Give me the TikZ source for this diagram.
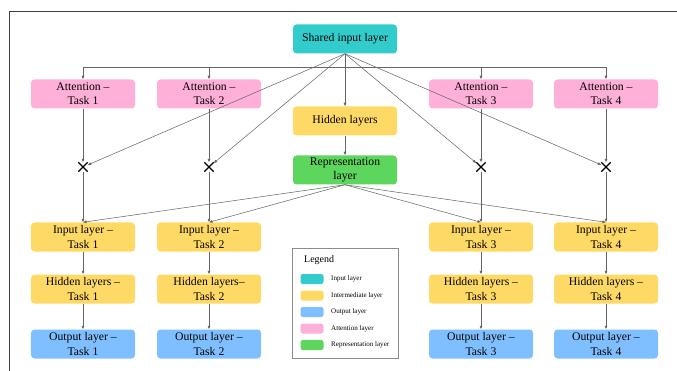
\documentclass[tikz,border=0pt]{standalone}
\usepackage{fontspec}
\setmainfont{Liberation Serif}
\usetikzlibrary{arrows.meta,shapes.misc}

\definecolor{inputcol}{RGB}{51,204,204}
\definecolor{midcol}{RGB}{255,217,102}
\definecolor{outcol}{RGB}{128,191,255}
\definecolor{attcol}{RGB}{255,176,216}
\definecolor{repcol}{RGB}{92,214,92}

\tikzset{
  layerbox/.style={rounded corners=3pt, minimum width=3.12cm, minimum height=0.87cm,
    align=center, inner sep=1pt, font=\fontsize{10}{12}\selectfont},
  inbox/.style={layerbox, fill=inputcol},
  midbox/.style={layerbox, fill=midcol},
  outbox/.style={layerbox, fill=outcol},
  attbox/.style={layerbox, fill=attcol},
  repbox/.style={layerbox, fill=repcol},
  mult/.style={cross out, draw=black, line width=1.1pt, minimum size=0.24cm, inner sep=0pt},
  arr/.style={draw=black!60, line width=0.45pt, -{Latex[length=3pt,width=2.6pt]}},
  swatch/.style={rounded corners=2pt, minimum width=0.69cm, minimum height=0.3cm, inner sep=0pt},
  legtext/.style={anchor=west, inner sep=0pt, font=\fontsize{6}{7}\selectfont}
}

\begin{document}
\begin{tikzpicture}[x=0.03cm,y=-0.03cm]
    \useasboundingbox (0,0) rectangle (677,371);
    \draw[black!75, line width=0.6pt] (9,371) -- (9,11) -- (677,11);

    % shared trunk
    \node[inbox] (shared) at (345,39) {Shared input layer};
    \node[midbox] (hid) at (345,121) {Hidden layers};
    \node[repbox] (rep) at (345,170) {Representation\\layer};
    \coordinate (bus) at (345,67);

    % task columns
    \foreach \i/\x/\hname in {1/83/{Hidden layers --},2/209/{Hidden layers--},3/481/{Hidden layers --},4/606/{Hidden layers --}} {
      \node[attbox] (att\i) at (\x,94) {Attention --\\Task \i};
      \node[mult] (x\i) at (\x,167) {};
      \node[midbox] (in\i) at (\x,237) {Input layer --\\Task \i};
      \node[midbox] (hl\i) at (\x,289) {\hname\\Task \i};
      \node[outbox] (out\i) at (\x,344) {Output layer --\\Task \i};
    }

    \draw[arr] (shared.south) -- (hid.north);
    \draw[arr] (hid.south) -- (rep.north);
    \foreach \i in {1,...,4} {
      \draw[arr] (bus) -| (att\i.north);
      \draw[arr] (shared.south) -- (x\i);
      \draw[arr] (att\i.south) -- (x\i.north);
      \draw[arr] (x\i.south) -- (in\i.north);
      \draw[arr] (rep.south) -- (in\i.north);
      \draw[arr] (in\i.south) -- (hl\i.north);
      \draw[arr] (hl\i.south) -- (out\i.north);
    }

    % legend
    \node[draw=black!45, line width=0.6pt, minimum width=3.18cm, minimum height=3.3cm] (legend) at (345,303) {};
    \node[anchor=west, inner sep=0pt, font=\fontsize{8.5}{9}\selectfont] (legtitle) at (304,260) {Legend};
    \foreach \col/\txt [count=\k] in {inputcol/Input layer, midcol/Intermediate layer, outcol/Output layer, attcol/Attention layer, repcol/Representation layer} {
      \node[swatch, fill=\col] (sw\k) at (312,{279+(\k-1)*16.5}) {};
      \node[legtext] (lt\k) at (331,{279+(\k-1)*16.5}) {\txt};
    }
\end{tikzpicture}
\end{document}
